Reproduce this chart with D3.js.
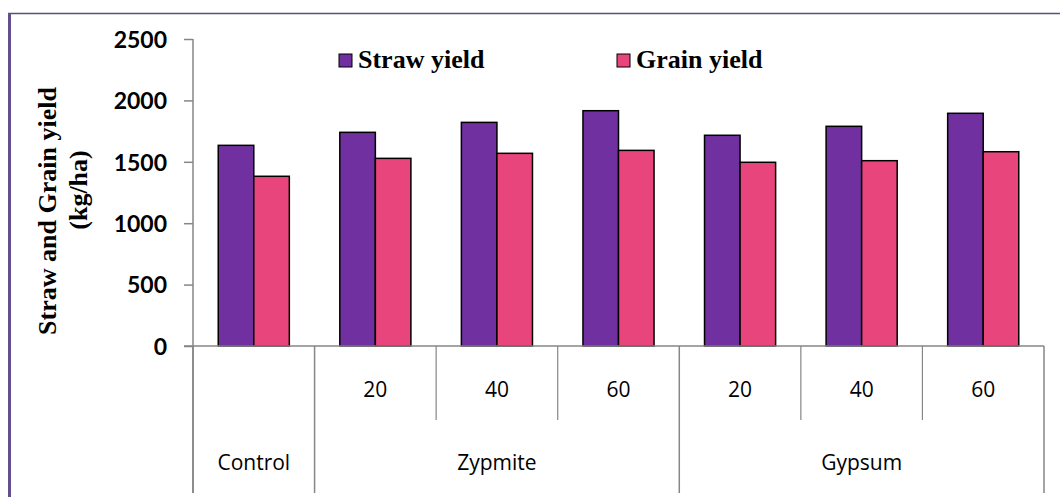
<!DOCTYPE html>
<html>
<head>
<meta charset="utf-8">
<script src="https://cdn.jsdelivr.net/npm/d3@7"></script>
<style>
  html, body { margin: 0; padding: 0; background: #fff; }
  svg { display: block; }
</style>
</head>
<body>
<svg id="chart" width="1060" height="497"></svg>
<script>
// ---- data ----
const categories = ["Control", "Zypmite 20", "Zypmite 40", "Zypmite 60", "Gypsum 20", "Gypsum 40", "Gypsum 60"];
const subLabels = ["", "20", "40", "60", "20", "40", "60"];
const groupNames = ["Control", "Zypmite", "Gypsum"];
const groupSizes = [1, 3, 3];
const seriesNames = ["Straw yield", "Grain yield"];
const strawYield = [1634, 1740, 1821, 1916, 1716, 1789, 1895];
const grainYield = [1382, 1528, 1569, 1593, 1496, 1509, 1582];
const yTicks = [0, 500, 1000, 1500, 2000, 2500];

const colors = { "Straw yield": "#7030A0", "Grain yield": "#E9457D" };
const seriesValues = { "Straw yield": strawYield, "Grain yield": grainYield };

const svg = d3.select("#chart");
const axisColor = "#868686";

// border (top and left)
svg.append("line").attr("x1", 8).attr("x2", 1060).attr("y1", 13.5).attr("y2", 13.5)
  .attr("stroke", "#5E4B7E").attr("stroke-width", 1.5);
svg.append("line").attr("x1", 9.5).attr("x2", 9.5).attr("y1", 13).attr("y2", 497)
  .attr("stroke", "#63508A").attr("stroke-width", 3);

const plotLeft = 193, plotRight = 1044, plotTop = 39, plotBottom = 346;

const y = d3.scaleLinear().domain([0, 2500]).range([plotBottom, plotTop]);
const x0 = d3.scaleBand().domain(categories).range([plotLeft, plotRight]).padding(0);
const x1 = d3.scaleBand().domain(seriesNames).range([0, x0.bandwidth()]).paddingInner(0).paddingOuter(0.71);

// y axis
const yAxis = d3.axisLeft(y).tickValues(yTicks).tickFormat(d3.format("d"))
  .tickSize(9).tickPadding(17).tickSizeOuter(0);
const gy = svg.append("g").attr("transform", `translate(${plotLeft},0)`).call(yAxis);
gy.select(".domain").remove();
gy.selectAll(".tick line").attr("stroke", axisColor).attr("stroke-width", 1.5);
gy.selectAll(".tick text")
  .attr("font-family", "Lato, 'DejaVu Sans', sans-serif").attr("font-weight", "bold")
  .attr("font-size", 23).attr("fill", "#000").attr("dy", "0.36em");
svg.append("line").attr("x1", plotLeft).attr("x2", plotLeft).attr("y1", plotTop).attr("y2", 493)
  .attr("stroke", axisColor).attr("stroke-width", 1.5);

// bars
const bars = [];
categories.forEach((c, i) => seriesNames.forEach(s => bars.push({ cat: c, series: s, value: seriesValues[s][i] })));
svg.append("g").selectAll("rect").data(bars).join("rect")
  .attr("x", d => x0(d.cat) + x1(d.series))
  .attr("y", d => y(d.value))
  .attr("width", x1.bandwidth())
  .attr("height", d => y(0) - y(d.value))
  .attr("fill", d => colors[d.series])
  .attr("stroke", "#000").attr("stroke-width", 1.5);

// x axis line
svg.append("line").attr("x1", 184).attr("x2", plotRight).attr("y1", plotBottom).attr("y2", plotBottom)
  .attr("stroke", axisColor).attr("stroke-width", 1.5);

// table: category boundaries
const groupStarts = [];
let acc = 0;
groupSizes.forEach(n => { groupStarts.push(acc); acc += n; });
const groupBoundaryIdx = new Set([...groupStarts, categories.length]);
for (let i = 0; i <= categories.length; i++) {
  const xx = i < categories.length ? x0(categories[i]) : x0.range()[1];
  const full = groupBoundaryIdx.has(i);
  svg.append("line").attr("x1", xx).attr("x2", xx)
    .attr("y1", plotBottom).attr("y2", full ? 493 : 420)
    .attr("stroke", axisColor).attr("stroke-width", full ? 1.5 : 1.2);
}

const labelFont = "'Open Sans', Lato, sans-serif";
// sub labels
svg.append("g").selectAll("text").data(categories).join("text")
  .attr("x", d => x0(d) + x0.bandwidth() / 2)
  .attr("y", 389)
  .attr("dy", "0.36em")
  .attr("text-anchor", "middle")
  .attr("font-family", labelFont).attr("font-size", 21).attr("font-weight", 500).attr("fill", "#000")
  .text((d, i) => subLabels[i]);

// group labels
svg.append("g").selectAll("text").data(groupNames).join("text")
  .attr("x", (d, i) => {
    const a = x0(categories[groupStarts[i]]);
    const b = x0(categories[groupStarts[i] + groupSizes[i] - 1]) + x0.bandwidth();
    return (a + b) / 2;
  })
  .attr("y", 462)
  .attr("dy", "0.36em")
  .attr("text-anchor", "middle")
  .attr("font-family", labelFont).attr("font-size", 21).attr("font-weight", 500).attr("fill", "#000")
  .text(d => d);

// y axis title
const titleFont = "'Liberation Serif', 'Times New Roman', serif";
svg.append("text")
  .attr("transform", "translate(56,211) rotate(-90)")
  .attr("text-anchor", "middle")
  .attr("font-family", titleFont).attr("font-weight", "bold").attr("font-size", 26).attr("fill", "#000")
  .text("Straw and Grain yield");
svg.append("text")
  .attr("transform", "translate(87,190) rotate(-90)")
  .attr("text-anchor", "middle")
  .attr("font-family", titleFont).attr("font-weight", "bold").attr("font-size", 26).attr("fill", "#000")
  .text("(kg/ha)");

// legend
const legendX = [339, 617];
const lg = svg.append("g").selectAll("g").data(seriesNames).join("g")
  .attr("transform", (d, i) => `translate(${legendX[i]},54)`);
lg.append("rect").attr("width", 13).attr("height", 13)
  .attr("fill", d => colors[d]).attr("stroke", "#000").attr("stroke-width", 1);
lg.append("text").attr("x", 19).attr("y", 13.5)
  .attr("font-family", titleFont).attr("font-weight", "bold").attr("font-size", 26).attr("fill", "#000")
  .text(d => d);
</script>
</body>
</html>
